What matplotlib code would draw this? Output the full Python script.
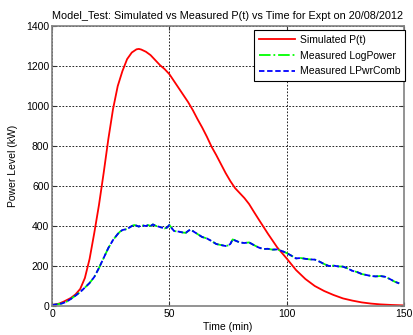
import matplotlib
matplotlib.use("Agg")
import matplotlib.pyplot as plt

plt.rcParams['font.family'] = ['Liberation Sans', 'DejaVu Sans']

# Simulated P(t)
sim_t = [0, 3, 5, 8, 10, 12, 14, 16, 18, 20, 22, 24, 26, 28, 30, 32, 34, 36, 37, 38,
         40, 42, 44, 46, 48, 50, 52, 54, 56, 58, 60, 62, 64, 66, 68, 70, 72, 74, 76,
         78, 80, 82, 84, 86, 88, 92, 96, 100, 104, 108, 112, 116, 120, 124, 128, 132,
         136, 140, 145, 150]
sim_p = [5, 12, 22, 40, 58, 85, 140, 235, 365, 505, 665, 835, 985, 1100, 1175, 1235,
         1268, 1284, 1286, 1283, 1272, 1255, 1230, 1205, 1185, 1160, 1125, 1090, 1055,
         1020, 980, 935, 893, 847, 797, 755, 710, 665, 625, 590, 565, 540, 510, 472,
         435, 362, 293, 238, 180, 135, 100, 75, 55, 38, 27, 18, 12, 8, 5, 3]

# Measured (LogPower and LPwrComb)
meas_t = [0, 2, 4, 6, 8, 10, 12, 14, 16, 18, 20, 22, 24, 26, 28, 29, 30, 32, 34, 35,
          36, 37, 38, 40, 41, 42, 43, 44, 46, 48, 49, 50, 51, 52, 54, 56, 57, 58, 59,
          60, 62, 64, 66, 68, 70, 72, 74, 75, 76, 77, 78, 80, 82, 84, 86, 88, 90, 92,
          94, 96, 98, 100, 102, 104, 106, 108, 110, 112, 114, 116, 118, 120, 122, 124,
          126, 128, 130, 132, 134, 136, 138, 140, 142, 144, 146, 148]
log_power = [5, 8, 12, 20, 35, 52, 70, 92, 115, 145, 190, 240, 290, 330, 360, 372, 380,
             385, 400, 405, 402, 397, 404, 400, 405, 400, 408, 402, 395, 388, 392, 405,
             390, 375, 372, 367, 366, 375, 383, 375, 360, 345, 338, 325, 310, 305, 300,
             303, 310, 333, 328, 318, 315, 318, 305, 293, 285, 286, 282, 283, 275, 265,
             252, 238, 240, 236, 233, 232, 222, 210, 200, 202, 198, 197, 188, 176, 170,
             160, 155, 150, 148, 150, 146, 135, 122, 113]
lpwr_comb = list(log_power)

fig = plt.figure(figsize=(4.13, 3.35), dpi=100)
ax = fig.add_axes([0.126, 0.0866, 0.852, 0.8354])

ax.plot(sim_t, sim_p, color='#ff0000', lw=1.3, label='Simulated P(t)')
ax.plot(meas_t, log_power, color='#00ff00', lw=1.3, ls='-.', label='Measured LogPower')
ax.plot(meas_t, lpwr_comb, color='#0000ff', lw=1.3, ls='--', dashes=(3, 1.5),
        label='Measured LPwrComb')

ax.set_xlim(0, 150)
ax.set_ylim(0, 1400)
ax.set_xticks([0, 50, 100, 150])
ax.set_yticks(range(0, 1401, 200))
ax.grid(True, color='black', ls=(0, (2, 2)), lw=0.6)
ax.tick_params(direction='in', top=True, right=True, labelsize=7.5, length=3,
               color='#333333', pad=2)
for s in ax.spines.values():
    s.set_color('#808080')
    s.set_linewidth(1.2)

ax.set_xlabel('Time (min)', fontsize=7.5, labelpad=2)
ax.set_ylabel('Power Level (kW)', fontsize=7.5, labelpad=6)
ax.set_title('Model_Test: Simulated vs Measured P(t) vs Time for Expt on 20/08/2012',
             fontsize=7.8, pad=5)

leg = ax.legend(loc='upper right', bbox_to_anchor=(1.003, 0.985), fontsize=7.5,
                fancybox=False, edgecolor='black', framealpha=1, borderaxespad=0,
                handlelength=3.4, labelspacing=0.55, borderpad=0.45,
                handletextpad=0.5)
leg.get_frame().set_linewidth(0.8)

fig.savefig('out.png', dpi=100)
